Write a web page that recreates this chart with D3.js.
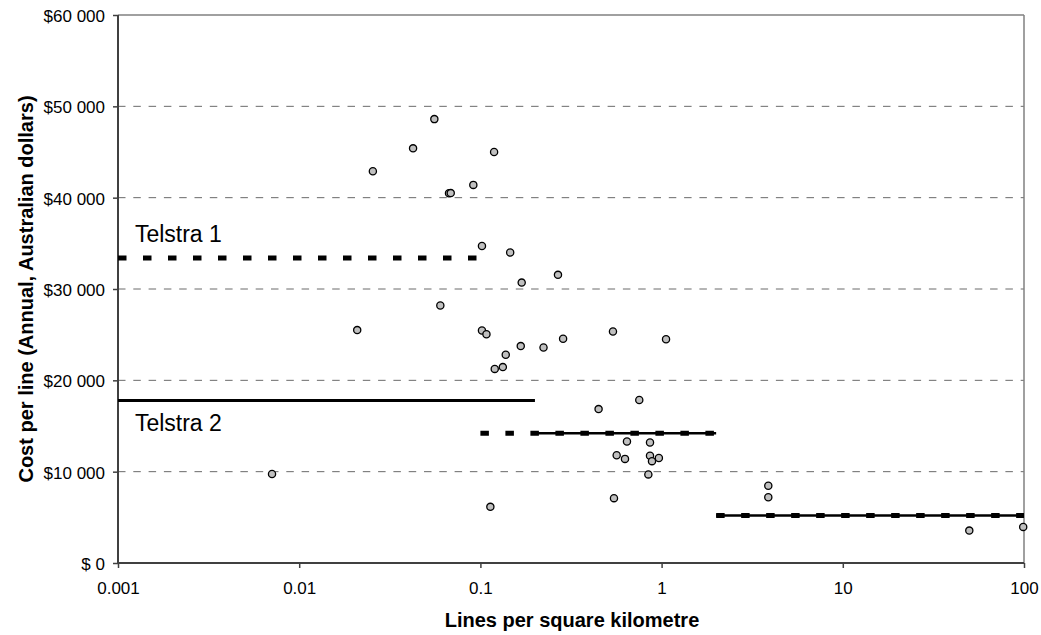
<!DOCTYPE html>
<html><head><meta charset="utf-8">
<script src="https://cdn.jsdelivr.net/npm/d3@7"></script>
<style>
body{margin:0;background:#fff;}
text{font-family:Arial,"Liberation Sans",sans-serif;}
</style></head><body>
<svg id="chart" width="1041" height="635"></svg>
<script>
// Data
const density = [0.00708,0.0557,0.0425,0.0255,0.119,0.0914,0.0671,0.0686,0.102,0.146,0.169,0.268,0.0601,0.0209,0.102,0.108,0.539,1.058,0.286,0.167,0.223,0.138,0.120,0.133,0.449,0.753,0.644,0.863,0.565,0.628,0.863,0.885,0.966,0.845,0.546,0.1135,3.88,3.88,49.9,99];
const cost    = [9750,48600,45400,42900,45000,41400,40480,40500,34700,34000,30700,31550,28200,25500,25450,25050,25350,24500,24550,23750,23600,22800,21250,21450,16850,17850,13300,13200,11800,11400,11750,11150,11500,9700,7100,6150,8450,7200,3550,3950];
// [from, to, value]
const dashedLines = [[0.001,0.1,33400],[0.1,2,14200],[2,100,5200]];
const solidLines  = [[0.001,0.2,17800]];
const thinLines   = [[0.2,2,14200],[2,100,5200]];
const lineLabels = [{text:"Telstra 1", x:0.00124, y:35150},{text:"Telstra 2", x:0.00124, y:14450}];
const xTicks = [0.001,0.01,0.1,1,10,100];
const xTickLabels = ["0.001","0.01","0.1","1","10","100"];
const yTicks = [0,10000,20000,30000,40000,50000,60000];
const xTitle = "Lines per square kilometre";
const yTitle = "Cost per line (Annual, Australian dollars)";

const svg = d3.select("#chart");
const L=118, R=1024, T=15, B=563;
const x = d3.scaleLog().domain([0.001,100]).range([L,R]);
const y = d3.scaleLinear().domain([0,60000]).range([B,T]);

// gridlines
svg.append("g").selectAll("line").data(yTicks.filter(d=>d>0&&d<60000)).join("line")
  .attr("x1",L).attr("x2",R).attr("y1",d=>y(d)).attr("y2",d=>y(d))
  .attr("stroke","#6a6a6a").attr("stroke-width",1).attr("stroke-dasharray","7.5,7.8");
// top & right border
svg.append("line").attr("x1",L).attr("x2",R).attr("y1",y(60000)).attr("y2",y(60000)).attr("stroke","#808080").attr("stroke-width",1.5);
svg.append("line").attr("x1",R).attr("x2",R).attr("y1",T).attr("y2",B).attr("stroke","#808080").attr("stroke-width",1.5);

// axes
const fmt = d => d===0 ? "$ 0" : "$" + d3.format(",")(d).replace(/,/g," ");
const yAxis = svg.append("g").attr("transform",`translate(${L},0)`)
  .call(d3.axisLeft(y).tickValues(yTicks).tickFormat(fmt).tickSize(5).tickPadding(8));
const xAxis = svg.append("g").attr("transform",`translate(0,${B})`)
  .call(d3.axisBottom(x).tickValues(xTicks).tickFormat((d,i)=>xTickLabels[i]).tickSize(5).tickPadding(14));
[xAxis,yAxis].forEach(a=>{
  a.select(".domain").attr("stroke","#404040").attr("stroke-width",2);
  a.selectAll(".tick line").attr("stroke","#404040").attr("stroke-width",1.5);
  a.selectAll("text").attr("font-size","17px").attr("fill","#000").attr("font-family","Arial, 'Liberation Sans', sans-serif");
});
yAxis.selectAll(".tick text").attr("dy","0.38em");
yAxis.select(".domain").attr("d",`M0,${T}V${B}`);
xAxis.select(".domain").attr("d",`M${L},0H${R}`);

// lines
svg.append("g").selectAll("line").data(solidLines).join("line")
  .attr("x1",d=>x(d[0])).attr("x2",d=>x(d[1])).attr("y1",d=>y(d[2])).attr("y2",d=>y(d[2]))
  .attr("stroke","#000").attr("stroke-width",3);
svg.append("g").selectAll("line").data(thinLines).join("line")
  .attr("x1",d=>x(d[0])).attr("x2",d=>x(d[1])).attr("y1",d=>y(d[2])).attr("y2",d=>y(d[2]))
  .attr("stroke","#000").attr("stroke-width",2.5);
svg.append("g").selectAll("line").data(dashedLines).join("line")
  .attr("x1",d=>x(d[0])).attr("x2",d=>x(d[1])).attr("y1",d=>y(d[2])).attr("y2",d=>y(d[2]))
  .attr("stroke","#000").attr("stroke-width",5).attr("stroke-dasharray","8.5,16.5");

// points
svg.append("g").selectAll("circle").data(density.map((d,i)=>[d,cost[i]])).join("circle")
  .attr("cx",d=>x(d[0])).attr("cy",d=>y(d[1])).attr("r",3.6)
  .attr("fill","#c0c0c0").attr("stroke","#000").attr("stroke-width",1.3);

// labels
svg.append("g").selectAll("text").data(lineLabels).join("text")
  .attr("x",d=>x(d.x)).attr("y",d=>y(d.y)).attr("font-size","23px").attr("fill","#000").text(d=>d.text);

// titles
svg.append("text").attr("x",(L+R)/2+1).attr("y",627).attr("text-anchor","middle")
  .attr("font-size","20px").attr("font-weight","bold").text(xTitle);
svg.append("text").attr("transform",`translate(33,${(T+B)/2}) rotate(-90)`).attr("text-anchor","middle")
  .attr("font-size","20px").attr("font-weight","bold").text(yTitle);
</script>
</body></html>
